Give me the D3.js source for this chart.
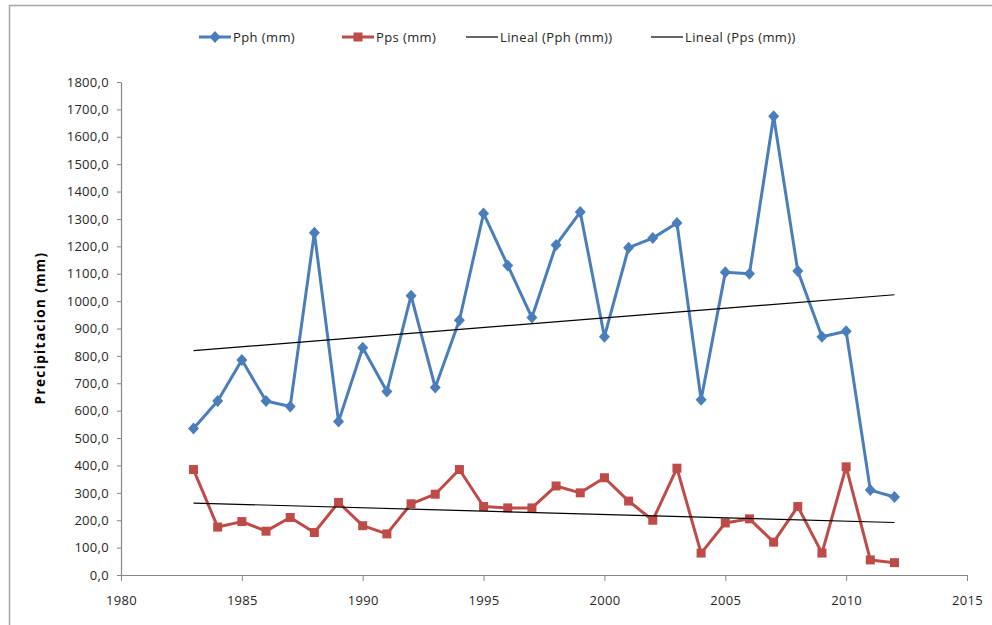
<!DOCTYPE html>
<html><head><meta charset="utf-8">
<script src="https://cdn.jsdelivr.net/npm/d3@7"></script>
<style>
html,body{margin:0;padding:0;background:#fff;}
svg{display:block;font-family:"Open Sans","Liberation Sans",sans-serif;}
</style></head>
<body><svg id="chart" width="992" height="625"></svg>
<script>
const years = [1983,1984,1985,1986,1987,1988,1989,1990,1991,1992,1993,1994,1995,1996,1997,1998,1999,2000,2001,2002,2003,2004,2005,2006,2007,2008,2009,2010,2011,2012];
const pph = [535,635,785,635,615,1250,560,830,670,1020,685,930,1320,1130,940,1205,1325,870,1195,1230,1285,640,1105,1100,1675,1110,870,890,310,285];
const pps = [385,175,195,160,210,155,265,180,150,260,295,385,250,245,245,325,300,355,270,200,390,80,190,205,120,250,80,395,55,45];
const xTicks = [1980,1985,1990,1995,2000,2005,2010,2015];
const yTicks = [0,100,200,300,400,500,600,700,800,900,1000,1100,1200,1300,1400,1500,1600,1700,1800];
const legendLabels = ["Pph (mm)","Pps (mm)","Lineal (Pph (mm))","Lineal (Pps (mm))"];
const yTitle = "Precipitacion  (mm)";

const svg = d3.select("#chart");
const blue = "#4A7EBB", red = "#BE4B48";
const txtFont = "'Open Sans','Liberation Sans',sans-serif";

// outer frame
svg.append("rect").attr("x",9.5).attr("y",5.5).attr("width",1100).attr("height",1000)
  .attr("fill","none").attr("stroke","#a6a6a6").attr("stroke-width",1.5);

const x = d3.scaleLinear().domain([1980,2015]).range([121,967]);
const y = d3.scaleLinear().domain([0,1800]).range([575,82]);

const fmt = v => d3.format(".1f")(v).replace(".",",");

const xAxis = svg.append("g").attr("transform","translate(0,575)")
  .call(d3.axisBottom(x).tickValues(xTicks).tickFormat(d3.format("d")).tickSize(6).tickSizeOuter(0));
const yAxis = svg.append("g").attr("transform","translate(121,0)")
  .call(d3.axisLeft(y).tickValues(yTicks).tickFormat(fmt).tickSize(4).tickSizeOuter(0));
[xAxis,yAxis].forEach(a=>{
  a.select(".domain").attr("stroke","#868686").attr("stroke-width",1.2);
  a.selectAll(".tick line").attr("stroke","#868686");
  a.selectAll(".tick text").attr("fill","#262626").attr("font-size",13)
   .attr("letter-spacing","0.3px").attr("font-family",txtFont);
});
xAxis.selectAll(".tick text").attr("dy","1.6em");
yAxis.selectAll(".tick text").attr("x",-12);

svg.append("text").attr("transform","translate(45,328) rotate(-90)")
  .attr("text-anchor","middle").attr("font-weight","bold").attr("font-size",13.5)
  .attr("letter-spacing","1.4px").attr("fill","#000").text(yTitle);

// trend lines (least squares, as the source spreadsheet does)
function trend(vals){
  const n=years.length, mx=d3.mean(years), my=d3.mean(vals);
  let sxy=0,sxx=0;
  years.forEach((yr,i)=>{sxy+=(yr-mx)*(vals[i]-my);sxx+=(yr-mx)*(yr-mx);});
  const b=sxy/sxx, a=my-b*mx;
  return [years[0],years[n-1]].map(yr=>[yr,a+b*yr]);
}
const line = d3.line().x(d=>x(d[0])).y(d=>y(d[1]));

const diamond = "M0,-6L5.5,0L0,6L-5.5,0Z";
const square = "M-4.5,-4.5H4.5V4.5H-4.5Z";

function series(vals,color,shape){
  const pts = years.map((yr,i)=>[yr,vals[i]]);
  svg.append("path").attr("d",line(pts)).attr("fill","none").attr("stroke",color)
    .attr("stroke-width",3).attr("stroke-linejoin","round");
  svg.append("g").selectAll("path").data(pts).join("path")
    .attr("transform",d=>`translate(${x(d[0])},${y(d[1])})`)
    .attr("d",shape).attr("fill",color);
}
series(pph,blue,diamond);
series(pps,red,square);
svg.append("path").attr("d",line(trend(pph))).attr("stroke","#000").attr("stroke-width",1.2).attr("fill","none");
svg.append("path").attr("d",line(trend(pps))).attr("stroke","#000").attr("stroke-width",1.2).attr("fill","none");

// legend
const leg = [
  {x:199,color:blue,shape:diamond,w:3},
  {x:342,color:red,shape:square,w:3},
  {x:466,color:"#000",shape:null,w:1.2},
  {x:651,color:"#000",shape:null,w:1.2}
];
const ly = 37;
leg.forEach((l,i)=>{
  const g = svg.append("g");
  g.append("line").attr("x1",l.x).attr("x2",l.x+32).attr("y1",ly).attr("y2",ly)
    .attr("stroke",l.color).attr("stroke-width",l.w);
  if(l.shape) g.append("path").attr("transform",`translate(${l.x+16},${ly})`)
    .attr("d",l.shape).attr("fill",l.color);
  g.append("text").attr("x",l.x+34).attr("y",ly).attr("dy","0.35em").attr("font-size",13)
    .attr("letter-spacing","0.4px").attr("fill","#262626").text(legendLabels[i]);
});
</script></body></html>
